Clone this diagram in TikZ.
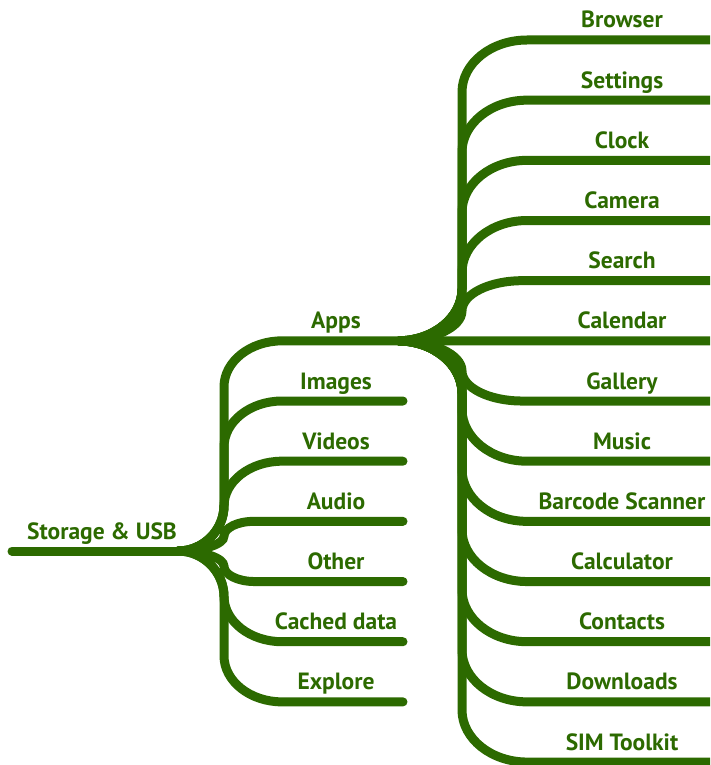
\documentclass[tikz,border=0pt]{standalone}
\usepackage{fontspec}
\setmainfont{PT Sans}
\usetikzlibrary{calc}
\definecolor{treeGreen}{HTML}{2C6A00}

\begin{document}
\begin{tikzpicture}[x=1pt,y=-1pt,
  branch/.style={draw=treeGreen,line width=9pt,line cap=round},
  lbl/.style={anchor=base,text=treeGreen,font=\fontsize{23.5}{26}\selectfont\bfseries}]
\useasboundingbox (0,0) rectangle (710,765);
\clip (0,0) rectangle (710,765);
% root
\coordinate (root) at (12,551);
\coordinate (hub) at (178,551);
\draw[branch] (root) -- (hub);
\node[lbl] (storage) at (102,539) {Storage \& USB};
% left side, trunk at x=224
\foreach \i/\name/\txt/\xe in {5/apps/Apps/398,6/images/Images/403,7/videos/Videos/403,8/audio/Audio/403,9/other/Other/403,10/cached/Cached data/403,11/explore/Explore/403}{
  \pgfmathsetmacro{\y}{40+60.17*\i}
  \pgfmathsetmacro{\dy}{\y-551}
  \pgfmathsetmacro{\sg}{sign(\dy)}
  \pgfmathsetmacro{\ra}{min(46,abs(\dy)/2)}
  \pgfmathsetmacro{\hb}{min(58,abs(\dy))}
  \pgfmathsetmacro{\ya}{551+\sg*\ra}
  \pgfmathsetmacro{\yca}{551+\sg*\ra*0.45}
  \pgfmathsetmacro{\yb}{\y-\sg*\ra}
  \pgfmathsetmacro{\ycb}{\y-\sg*\ra*0.45}
  \pgfmathsetmacro{\xh}{224+\hb}
  \pgfmathsetmacro{\xc}{224+0.45*\hb}
  \coordinate (\name-end) at (\xe,\y);
  \draw[branch] (hub) .. controls +(25,0) and (224,\yca) .. (224,\ya) -- (224,\yb)
    .. controls (224,\ycb) and (\xc,\y) .. (\xh,\y) -- (\name-end);
  \node[lbl] (\name) at (336,\y-12) {\txt};
}
% apps fan, trunk at x=462
\foreach \i/\name/\txt in {0/browser/Browser,1/settings/Settings,2/clock/Clock,3/camera/Camera,4/search/Search,5/calendar/Calendar,6/gallery/Gallery,7/music/Music,8/barcode/Barcode Scanner,9/calculator/Calculator,10/contacts/Contacts,11/downloads/Downloads,12/simtoolkit/SIM Toolkit}{
  \pgfmathsetmacro{\y}{40+60.17*\i}
  \pgfmathsetmacro{\dy}{\y-341}
  \pgfmathsetmacro{\sg}{sign(\dy)}
  \pgfmathsetmacro{\ra}{min(52,abs(\dy)/2)}
  \pgfmathsetmacro{\hb}{min(65,abs(\dy))}
  \pgfmathsetmacro{\ya}{341+\sg*\ra}
  \pgfmathsetmacro{\yca}{341+\sg*\ra*0.45}
  \pgfmathsetmacro{\yb}{\y-\sg*\ra}
  \pgfmathsetmacro{\ycb}{\y-\sg*\ra*0.45}
  \pgfmathsetmacro{\xh}{462+\hb}
  \pgfmathsetmacro{\xc}{462+0.45*\hb}
  \coordinate (\name-end) at (716,\y);
  \draw[branch,line cap=butt] (apps-end) .. controls +(35,0) and (462,\yca) .. (462,\ya) -- (462,\yb)
    .. controls (462,\ycb) and (\xc,\y) .. (\xh,\y) -- (\name-end);
  \node[lbl] (\name) at (622,\y-12) {\txt};
}
\end{tikzpicture}
\end{document}
